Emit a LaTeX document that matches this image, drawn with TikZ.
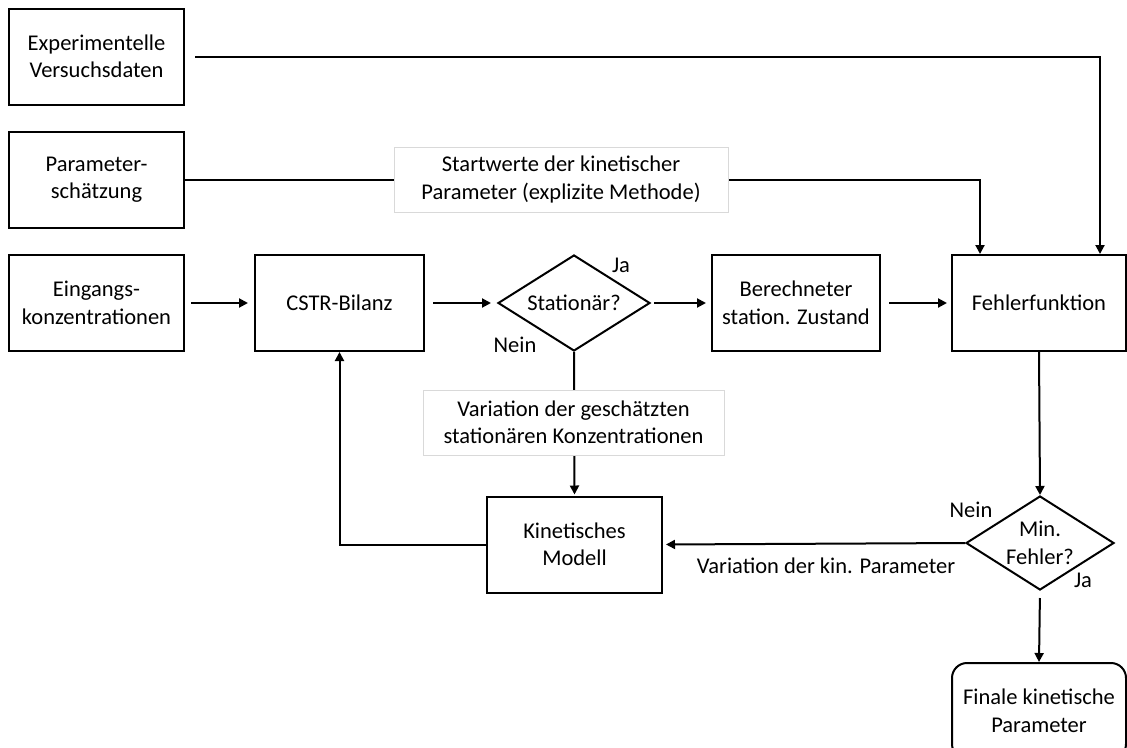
\documentclass[tikz,border=0pt]{standalone}
\usepackage{fontspec}
\setmainfont{Carlito}
\usetikzlibrary{arrows.meta,positioning,shapes.geometric}
\tikzset{
  blk/.style={draw,line width=2pt,minimum width=175pt,minimum height=96pt,
    align=center,inner sep=2pt},
  dec/.style={draw,diamond,line width=2pt,aspect=1.6,inner sep=0pt,
    align=center},
  tag/.style={draw=black!15,line width=0.8pt,fill=white,minimum height=65pt,
    align=center},
  flow/.style={-{Triangle[length=9pt,width=9pt]},line width=2pt}
}

\begin{document}
\begin{tikzpicture}[x=1pt,y=-1pt,font=\fontsize{22.5}{27.5}\selectfont]
  \useasboundingbox (0,0) rectangle (1127,747);
  \clip (0,0) rectangle (1127,747);

  % inputs
  \node[blk] (exp) at (96.5,56.5) {Experimentelle\\Versuchsdaten};
  \node[blk] (par) at (96.5,179.5) {Parameter-\\schätzung};
  \node[blk] (ein) at (96.5,303) {Eingangs-\\konzentrationen};

  % main row
  \node[blk,minimum width=169pt] (cstr) at (339.5,303) {CSTR-Bilanz};
  \node[dec,minimum width=152pt,minimum height=96pt] (stat) at (574,303) {Stationär?};
  \node[blk,minimum width=168pt] (ber) at (796,303) {Berechneter\\station. Zustand};
  \node[blk,minimum width=174pt] (fehl) at (1039,303) {Fehlerfunktion};

  % lower part
  \node[blk] (kin) at (574.5,544.5) {Kinetisches\\Modell};
  \node[dec,minimum width=148pt,minimum height=94pt] (minf) at (1040,543) {Min.\\Fehler?};
  \node[blk,minimum width=174pt,rounded corners=15pt] (fin) at (1039,711)
    {Finale kinetische\\Parameter};

  % connectors
  \draw[flow] ([xshift=10pt]exp.east) -| ([xshift=61pt]fehl.north);
  \draw[flow] (par.east) -| ([xshift=-59pt]fehl.north);
  \draw[flow,shorten <=6pt,shorten >=6pt] (ein) -- (cstr);
  \draw[flow,shorten <=8pt,shorten >=6pt] (cstr) -- (stat);
  \draw[flow,shorten <=3pt,shorten >=5pt] (stat) -- (ber);
  \draw[flow,shorten <=8pt,shorten >=4pt] (ber) -- (fehl);
  \draw[flow,shorten >=1pt] (stat.south) -- (kin.north);
  \draw[flow] (kin.west) -| (cstr.south);
  \draw[flow] (fehl.south) -- (minf.north);
  \draw[flow,shorten >=3pt] (minf.west) -- (kin.east);
  \draw[flow,shorten <=7pt] (minf.south) -- (fin.north);

  % labels on the connectors
  \node[tag,minimum width=334pt] (start) at (561,179.5)
    {Startwerte der kinetischer\\Parameter (explizite Methode)};
  \node[tag,minimum width=301pt] (vstat) at (573.5,422.5)
    {Variation der geschätzten\\stationären Konzentrationen};
  \node (vkin) at (826,566) {Variation der kin. Parameter};
  \node (ja1) at (621,265) {Ja};
  \node (nein1) at (515,345) {Nein};
  \node (nein2) at (971,510) {Nein};
  \node (ja2) at (1083,580) {Ja};
\end{tikzpicture}
\end{document}
